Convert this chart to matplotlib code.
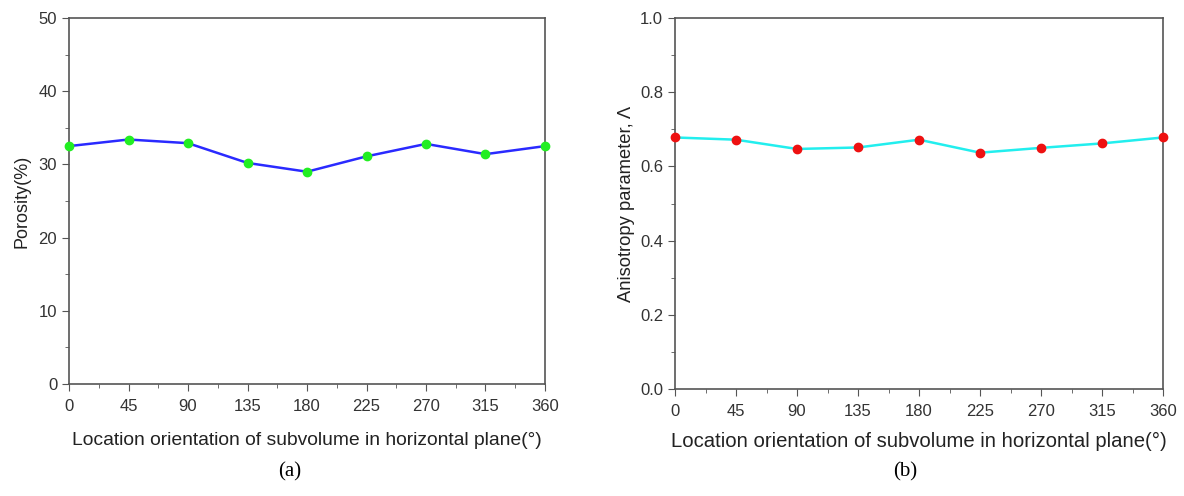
import matplotlib
matplotlib.use("Agg")
import matplotlib.pyplot as plt
from matplotlib.ticker import MultipleLocator

angles = [0, 45, 90, 135, 180, 225, 270, 315, 360]
porosity = [32.5, 33.4, 32.9, 30.2, 29.0, 31.1, 32.8, 31.4, 32.5]
anisotropy = [0.678, 0.672, 0.647, 0.651, 0.672, 0.637, 0.650, 0.662, 0.678]
xticks = [0, 45, 90, 135, 180, 225, 270, 315, 360]
xlabel = "Location orientation of subvolume in horizontal plane(\u00b0)"

plt.rcParams['font.family'] = ['Liberation Sans', 'DejaVu Sans']
fig = plt.figure(figsize=(11.84, 4.96), dpi=100)
axa = fig.add_axes([0.0583, 0.2258, 0.402, 0.7379])
axb = fig.add_axes([0.5701, 0.2157, 0.4122, 0.748])

spc = '#555555'
def style(ax):
    for s in ax.spines.values():
        s.set_color(spc)
        s.set_linewidth(1.2)
    ax.tick_params(which='both', direction='out', colors=spc, labelcolor='#333333',
                   labelsize=12, top=False, right=False)
    ax.tick_params(which='major', length=5)
    ax.tick_params(which='minor', length=3)
    ax.tick_params(axis='x', which='major', pad=6)
    ax.set_xlim(0, 360)
    ax.set_xticks(xticks)
    ax.xaxis.set_minor_locator(MultipleLocator(22.5))

axa.plot(angles, porosity, color='#2a2aff', lw=1.8, marker='o', ms=6,
         mfc='#22ee22', mec='#22ee22', clip_on=False, zorder=3)
style(axa)
axa.set_ylim(0, 50)
axa.yaxis.set_major_locator(MultipleLocator(10))
axa.yaxis.set_minor_locator(MultipleLocator(5))
axa.set_ylabel("Porosity(%)", fontsize=13, color='#222222', labelpad=6)
axa.set_xlabel(xlabel, fontsize=13.9, color='#222222', labelpad=13)

axb.plot(angles, anisotropy, color='#22eeee', lw=1.8, marker='o', ms=6,
         mfc='#ee1111', mec='#ee1111', clip_on=False, zorder=3)
style(axb)
axb.set_ylim(0, 1.0)
axb.yaxis.set_major_locator(MultipleLocator(0.2))
axb.yaxis.set_minor_locator(MultipleLocator(0.1))
axb.set_ylabel("Anisotropy parameter, \u039b", fontsize=13.2, color='#222222', labelpad=4)
axb.set_xlabel(xlabel, fontsize=14.6, color='#222222', labelpad=9)

fig.text(290/1184, 1 - 472/496, "(a)", ha='center', va='center', fontsize=15,
         family='Liberation Serif')
fig.text(905/1184, 1 - 472/496, "(b)", ha='center', va='center', fontsize=15,
         family='Liberation Serif')

fig.savefig("out.png", dpi=100)
